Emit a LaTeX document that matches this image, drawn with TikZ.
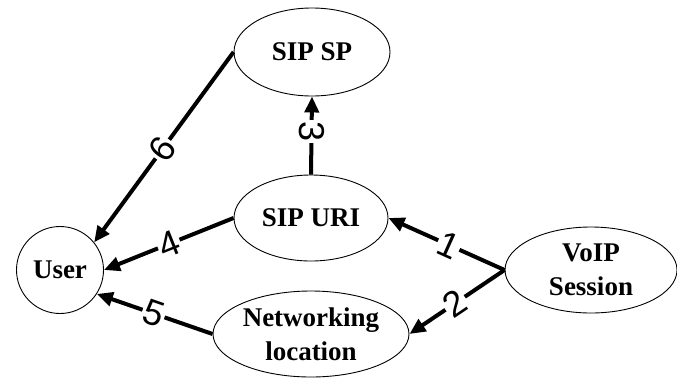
\documentclass[tikz,border=0pt]{standalone}
\usepackage{fontspec}
\setmainfont{Liberation Serif}
\newfontfamily\digitfont{Liberation Sans}
\usetikzlibrary{shapes.geometric,arrows.meta}
\begin{document}
\begin{tikzpicture}[x=1pt,y=-1pt,
  ent/.style={draw, ellipse, line width=0.9pt, inner sep=0pt, align=center,
    font=\fontsize{27}{34}\selectfont\bfseries},
  conn/.style={line width=4pt, -{Triangle[length=16pt,width=14pt]}},
  num/.style={fill=white, inner sep=1.5pt, font=\digitfont\fontsize{36}{36}\selectfont}]
\useasboundingbox (0,0) rectangle (677,378);
\node[ent, minimum width=156pt, minimum height=88pt] (sipsp) at (312,52) {SIP SP};
\node[ent, minimum width=154pt, minimum height=86pt] (sipuri) at (311,218) {SIP URI};
\node[ent, minimum width=196pt, minimum height=86pt] (net) at (311,334) {Networking\\location};
\node[ent, minimum width=172pt, minimum height=86pt] (voip) at (591,270) {VoIP\\Session};
\node[draw, circle, line width=0.9pt, minimum size=87pt, inner sep=0pt,
  font=\fontsize{27}{34}\selectfont\bfseries] (user) at (60,270) {User};
\draw[conn] (voip.west) -- node[num, sloped, pos=0.48] {1} (sipuri.east);
\draw[conn] (voip.west) -- node[num, sloped, pos=0.52] {2} (net.east);
\draw[conn] (sipuri.north) -- node[num, rotate=-90, pos=0.55] {3} (sipsp.south);
\draw[conn] (sipuri.west) -- node[num, sloped, pos=0.5] {4} (user.east);
\draw[conn] (net.west) -- node[num, sloped, pos=0.51] {5} (user.-33);
\draw[conn] (sipsp.west) -- node[num, sloped, pos=0.51] {6} (user.39);
\end{tikzpicture}
\end{document}
